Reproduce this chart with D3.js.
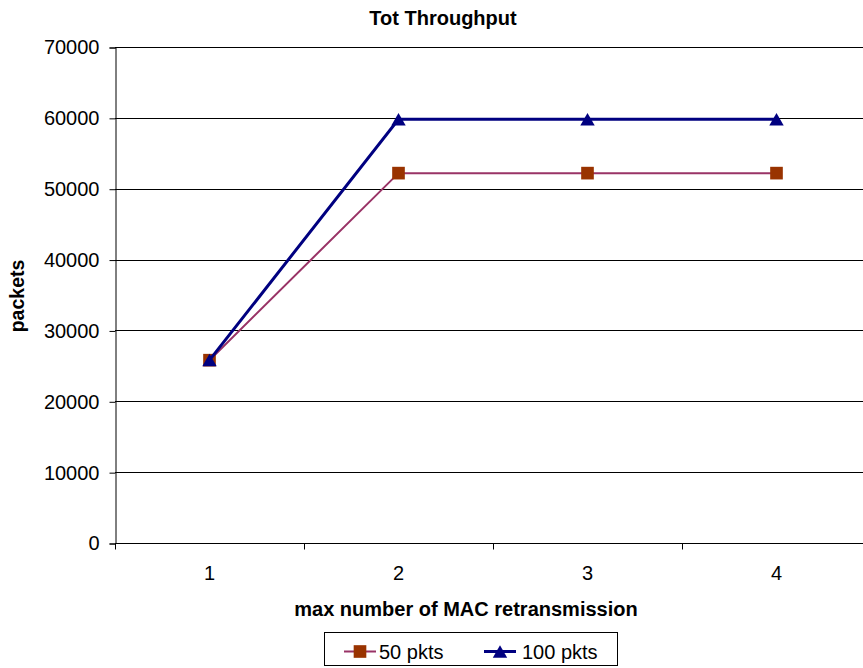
<!DOCTYPE html>
<html>
<head>
<meta charset="utf-8">
<script src="https://cdn.jsdelivr.net/npm/d3@7"></script>
<style>
  body { margin: 0; background: #fff; }
  #chart { width: 863px; height: 668px; overflow: hidden; }
  text { font-family: "Liberation Sans", Arial, sans-serif; fill: #000; }
</style>
</head>
<body>
<div id="chart"></div>
<script>
// data
const categories = ["1", "2", "3", "4"];
const pkts50 = [25800, 52200, 52200, 52200];
const pkts100 = [25800, 59800, 59800, 59800];
const yTicks = [0, 10000, 20000, 30000, 40000, 50000, 60000, 70000];

const width = 863, height = 668;
const margin = {top: 47, left: 115, bottom: 125};
const plotRight = 871; // plot area runs slightly past the picture edge

const svg = d3.select("#chart").append("svg")
    .attr("width", width)
    .attr("height", height);

const xScale = d3.scaleBand()
    .domain(categories)
    .range([margin.left, plotRight]);

const yScale = d3.scaleLinear()
    .domain([0, 70000])
    .range([height - margin.bottom, margin.top]);

// gridlines
svg.append("g")
    .selectAll("line")
    .data(yTicks.filter(d => d > 0))
    .join("line")
        .attr("x1", margin.left)
        .attr("x2", plotRight)
        .attr("y1", d => Math.round(yScale(d)) + 0.5)
        .attr("y2", d => Math.round(yScale(d)) + 0.5)
        .attr("stroke", "#000")
        .attr("stroke-width", 1);

// y axis
const yAxis = svg.append("g")
    .attr("transform", `translate(${margin.left + 0.5},0.5)`)
    .call(d3.axisLeft(yScale).tickValues(yTicks).tickSize(6).tickPadding(10).tickFormat(d3.format("d")));
yAxis.selectAll("text").attr("font-size", 20).style("font-family", "Liberation Sans, Arial, sans-serif");
yAxis.selectAll("line, path").attr("stroke", "#000");

// x axis: ticks at band boundaries, labels at band centres
const xAxisG = svg.append("g")
    .attr("transform", `translate(0,${yScale(0) + 0.5})`);
xAxisG.append("line")
    .attr("x1", margin.left).attr("x2", plotRight)
    .attr("stroke", "#000");
const bounds = categories.map(c => xScale(c)).concat([xScale(categories[3]) + xScale.bandwidth()]);
xAxisG.selectAll(".tk")
    .data(bounds)
    .join("line")
        .attr("class", "tk")
        .attr("x1", d => Math.round(d) + 0.5)
        .attr("x2", d => Math.round(d) + 0.5)
        .attr("y1", 0).attr("y2", 6)
        .attr("stroke", "#000");
xAxisG.selectAll(".lbl")
    .data(categories)
    .join("text")
        .attr("class", "lbl")
        .attr("x", d => xScale(d) + xScale.bandwidth() / 2)
        .attr("y", 36)
        .attr("text-anchor", "middle")
        .attr("font-size", 20)
        .text(d => d);

// lines
const series = [
    {name: "50 pkts", values: pkts50, line: "#993366", marker: "#993300", shape: d3.symbolSquare, lw: 2, size: 160, dy: 0},
    {name: "100 pkts", values: pkts100, line: "#000080", marker: "#000080", shape: d3.symbolTriangle, lw: 3, size: 90, dy: 2}
];

const cx = (i) => xScale(categories[i]) + xScale.bandwidth() / 2;

series.forEach(s => {
    const line = d3.line()
        .x((d, i) => cx(i))
        .y(d => yScale(d));
    svg.append("path")
        .datum(s.values)
        .attr("fill", "none")
        .attr("stroke", s.line)
        .attr("stroke-width", s.lw)
        .attr("d", line);
    svg.append("g")
        .selectAll("path")
        .data(s.values)
        .join("path")
            .attr("transform", (d, i) => `translate(${cx(i)},${yScale(d) + s.dy})`)
            .attr("d", d3.symbol().type(s.shape).size(s.size))
            .attr("fill", s.marker);
});

// titles
svg.append("text")
    .attr("x", 443).attr("y", 25)
    .attr("text-anchor", "middle")
    .attr("font-size", 20).attr("font-weight", "bold")
    .text("Tot Throughput");

svg.append("text")
    .attr("x", 466).attr("y", 616)
    .attr("text-anchor", "middle")
    .attr("font-size", 20).attr("font-weight", "bold")
    .text("max number of MAC retransmission");

svg.append("text")
    .attr("transform", "rotate(-90)")
    .attr("x", -296).attr("y", 24)
    .attr("text-anchor", "middle")
    .attr("font-size", 19.5).attr("font-weight", "bold")
    .text("packets");

// legend
const legend = svg.append("g").attr("transform", "translate(324.5,632.5)");
legend.append("rect")
    .attr("width", 293).attr("height", 33)
    .attr("fill", "#fff").attr("stroke", "#000");

const legendX = [35.5, 175.5];
series.forEach((s, i) => {
    const g = legend.append("g").attr("transform", `translate(${legendX[i]},19)`);
    g.append("line").attr("x1", -16).attr("x2", 16)
        .attr("stroke", s.line).attr("stroke-width", s.lw);
    g.append("path")
        .attr("transform", `translate(0,${s.dy})`)
        .attr("d", d3.symbol().type(s.shape).size(s.size))
        .attr("fill", s.marker);
    g.append("text")
        .attr("x", i === 0 ? 19 : 22).attr("y", 7)
        .attr("font-size", 20)
        .text(s.name);
});
</script>
</body>
</html>
